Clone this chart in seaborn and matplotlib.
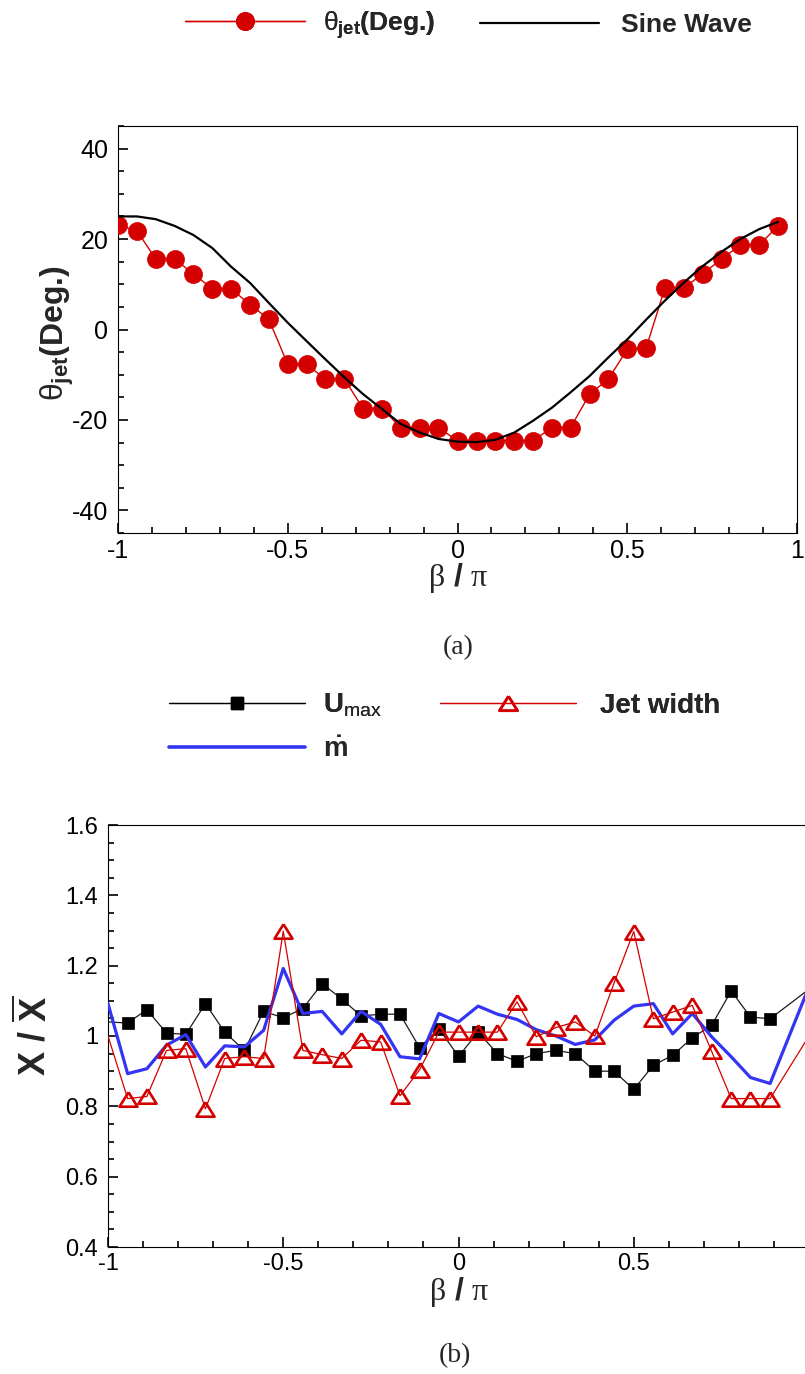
import numpy as np
import pandas as pd
import matplotlib
matplotlib.use("Agg")
import matplotlib.pyplot as plt
import seaborn as sns
from matplotlib.ticker import MultipleLocator, FixedLocator, FixedFormatter
from matplotlib.lines import Line2D

# ---------------- data ----------------
beta_top = [-1.0, -0.944, -0.889, -0.833, -0.778, -0.722, -0.667, -0.611, -0.556,
            -0.5, -0.444, -0.389, -0.333, -0.278, -0.222, -0.167, -0.111, -0.056,
            0.0, 0.056, 0.111, 0.167, 0.222, 0.278, 0.333, 0.389, 0.444,
            0.5, 0.556, 0.611, 0.667, 0.722, 0.778, 0.833, 0.889, 0.944]
theta_jet = [23.1, 21.8, 15.6, 15.6, 12.3, 9.0, 9.0, 5.5, 2.3,
             -7.7, -7.7, -11.0, -11.0, -17.5, -17.5, -21.7, -21.7, -21.7,
             -24.6, -24.6, -24.6, -24.6, -24.6, -21.7, -21.7, -14.3, -11.0,
             -4.4, -4.0, 9.2, 9.2, 12.3, 15.6, 18.7, 18.7, 22.9]
sine_wave = [25.0, 25.0, 24.4, 22.9, 20.9, 18.0, 13.9, 10.3, 5.9,
             1.5, -2.6, -6.6, -10.6, -14.3, -17.6, -20.9, -22.8, -24.2,
             -24.8, -24.9, -24.4, -22.8, -20.2, -17.3, -13.9, -10.3, -6.2,
             -2.2, 2.2, 6.4, 10.4, 14.0, 17.2, 20.0, 22.2, 23.8]

beta_bot = [-1.0, -0.944, -0.889, -0.833, -0.778, -0.722, -0.667, -0.611, -0.556,
            -0.5, -0.444, -0.389, -0.333, -0.278, -0.222, -0.167, -0.111, -0.056,
            0.0, 0.056, 0.111, 0.167, 0.222, 0.278, 0.333, 0.389, 0.444,
            0.5, 0.556, 0.611, 0.667, 0.722, 0.778, 0.833, 0.889, 1.0]
u_max = [1.04, 1.037, 1.075, 1.008, 1.005, 1.092, 1.011, 0.959, 1.070,
         1.052, 1.078, 1.149, 1.105, 1.057, 1.062, 1.062, 0.967, 1.021,
         0.942, 1.011, 0.950, 0.928, 0.950, 0.959, 0.950, 0.900, 0.900,
         0.848, 0.917, 0.945, 0.995, 1.030, 1.128, 1.054, 1.049, 1.133]
jet_width = [1.0, 0.822, 0.828, 0.959, 0.964, 0.793, 0.936, 0.941, 0.936,
             1.298, 0.959, 0.947, 0.936, 0.988, 0.983, 0.830, 0.904, 1.011,
             1.011, 1.011, 1.011, 1.097, 0.998, 1.024, 1.040, 1.000, 1.151,
             1.297, 1.049, 1.068, 1.087, 0.957, 0.822, 0.822, 0.822, 1.0]
m_dot = [1.092, 0.893, 0.907, 0.974, 1.004, 0.912, 0.972, 0.969, 1.016,
         1.192, 1.064, 1.070, 1.006, 1.070, 1.033, 0.941, 0.935, 1.064,
         1.040, 1.085, 1.062, 1.047, 1.018, 1.000, 0.976, 0.989, 1.045,
         1.085, 1.092, 1.006, 1.064, 0.998, 0.941, 0.882, 0.865, 1.14]

x_ticks = [-1, -0.5, 0, 0.5, 1]
x_tick_labels_top = ["-1", "-0.5", "0", "0.5", "1"]
x_tick_labels_bot = ["-1", "-0.5", "0", "0.5", ""]   # "1" lies outside the picture
y_ticks_top = [-40, -20, 0, 20, 40]
y_tick_labels_top = ["-40", "-20", "0", "20", "40"]
y_ticks_bot = [0.4, 0.6, 0.8, 1.0, 1.2, 1.4, 1.6]
y_tick_labels_bot = ["0.4", "0.6", "0.8", "1", "1.2", "1.4", "1.6"]

# ---------------- style ----------------
sns.set_style("white", rc={"axes.edgecolor": "black", "axes.linewidth": 1.5,
                           "xtick.color": "black", "ytick.color": "black"})
plt.rcParams["font.family"] = ["Liberation Sans", "DejaVu Sans"]
plt.rcParams["axes.unicode_minus"] = False
plt.rcParams["mathtext.fontset"] = "custom"
plt.rcParams["mathtext.rm"] = "Liberation Sans"
plt.rcParams["mathtext.it"] = "Liberation Sans"
plt.rcParams["mathtext.bf"] = "Liberation Sans:bold"
plt.rcParams["mathtext.sf"] = "Liberation Serif"

RED = "#d40000"
BLUE = "#3434f4"

W, H = 805, 1374
fig = plt.figure(figsize=(W / 100, H / 100), dpi=100)


def fx(px):
    return px / W


def fy(py):
    return 1 - py / H


THETA_LABEL = r"$\theta_{\mathbf{jet}}$(Deg.)"

# ---------------- top panel ----------------
ax1 = fig.add_axes([fx(118), fy(533), (797 - 118) / W, (533 - 126) / H])
df_top = pd.DataFrame({"beta": beta_top, "theta": theta_jet, "sine": sine_wave})
sns.lineplot(data=df_top, x="beta", y="theta", ax=ax1, color=RED, lw=1.0,
             marker="o", markersize=13, markerfacecolor=RED,
             markeredgecolor=RED, markeredgewidth=0.5, legend=False, zorder=3)
sns.lineplot(data=df_top, x="beta", y="sine", ax=ax1, color="black", lw=1.6,
             legend=False, zorder=4)
ax1.set_xlim(-1, 1)
ax1.set_ylim(-45, 45)
ax1.xaxis.set_major_locator(FixedLocator(x_ticks))
ax1.xaxis.set_major_formatter(FixedFormatter(x_tick_labels_top))
ax1.xaxis.set_minor_locator(MultipleLocator(0.1))
ax1.yaxis.set_major_locator(FixedLocator(y_ticks_top))
ax1.yaxis.set_major_formatter(FixedFormatter(y_tick_labels_top))
ax1.yaxis.set_minor_locator(MultipleLocator(5))
ax1.set_xlabel("")
ax1.set_ylabel("")
ax1.tick_params(which="both", direction="in", top=False, right=False,
                bottom=True, left=True, width=1.2)
ax1.tick_params(which="major", length=7, labelsize=18)
ax1.tick_params(which="minor", length=4)
ax1.tick_params(axis="y", which="major", pad=7)
ax1.tick_params(axis="x", which="major", pad=4)

fig.text(fx(57), fy(333), THETA_LABEL, fontweight="bold",
         rotation=90, ha="center", va="center", fontsize=23)
fig.text(fx(458), fy(578), r"$\mathsf{\beta}\ \mathbf{/}\ \mathsf{\pi}$",
         ha="center", va="center", fontsize=23)
fig.text(fx(458), fy(648), "(a)", family="Liberation Serif",
         ha="center", va="center", fontsize=20)

lines_top = ax1.get_lines()
fs = 19
fs_px = fs * 100 / 72
legprop = {"weight": "bold", "size": fs}
leg1 = fig.legend(handles=[lines_top[0]], labels=[THETA_LABEL],
                  loc="center left", bbox_to_anchor=(fx(185), fy(25)),
                  frameon=False, borderpad=0, borderaxespad=0, numpoints=1,
                  handlelength=120 / fs_px, handletextpad=18 / fs_px, prop=legprop)
leg2 = fig.legend(handles=[lines_top[1]], labels=["Sine Wave"],
                  loc="center left", bbox_to_anchor=(fx(480), fy(25)),
                  frameon=False, borderpad=0, borderaxespad=0,
                  handlelength=119 / fs_px, handletextpad=22 / fs_px, prop=legprop)
fig.add_artist(leg1)

# ---------------- bottom panel ----------------
ax2 = fig.add_axes([fx(108), fy(1247), (809 - 108) / W, (1247 - 825) / H])
df_bot = pd.DataFrame({"beta": beta_bot, "umax": u_max, "width": jet_width, "mdot": m_dot})
inner = list(range(1, len(beta_bot) - 1))
tri = [(0, 0.8), (-1, -0.8), (1, -0.8), (0, 0.8)]
sns.lineplot(data=df_bot, x="beta", y="umax", ax=ax2, color="#1a1a1a", lw=0.9,
             marker="s", markersize=8, markerfacecolor="black", markeredgecolor="black",
             markeredgewidth=0.5, markevery=inner, legend=False, zorder=3)
sns.lineplot(data=df_bot, x="beta", y="mdot", ax=ax2, color=BLUE, lw=2.3,
             legend=False, zorder=4)
sns.lineplot(data=df_bot, x="beta", y="width", ax=ax2, color=RED, lw=0.9,
             marker=tri, markersize=13, markerfacecolor="none", markeredgecolor=RED,
             markeredgewidth=1.9, markevery=inner, legend=False, zorder=5)
ax2.set_xlim(-1, 1)
ax2.set_ylim(0.4, 1.6)
ax2.xaxis.set_major_locator(FixedLocator(x_ticks))
ax2.xaxis.set_major_formatter(FixedFormatter(x_tick_labels_bot))
ax2.xaxis.set_minor_locator(MultipleLocator(0.1))
ax2.yaxis.set_major_locator(FixedLocator(y_ticks_bot))
ax2.yaxis.set_major_formatter(FixedFormatter(y_tick_labels_bot))
ax2.yaxis.set_minor_locator(MultipleLocator(0.05))
ax2.set_xlabel("")
ax2.set_ylabel("")
ax2.tick_params(which="both", direction="in", top=False, right=False,
                bottom=True, left=True, width=1.2)
ax2.tick_params(which="major", length=7, labelsize=17)
ax2.tick_params(which="minor", length=4)
ax2.tick_params(axis="y", which="major", pad=7)
ax2.tick_params(axis="x", which="major", pad=4)

fig.text(fx(34), fy(1036), r"$\mathbf{X\ /\ \overline{X}}$",
         rotation=90, ha="center", va="center", fontsize=26)
fig.text(fx(459), fy(1292), r"$\mathsf{\beta}\ \mathbf{/}\ \mathsf{\pi}$",
         ha="center", va="center", fontsize=23)
fig.text(fx(455), fy(1356), "(b)", family="Liberation Serif",
         ha="center", va="center", fontsize=20)

h_umax = Line2D([], [], color="black", lw=0.9, marker="s", markersize=8,
                markerfacecolor="black", markeredgecolor="black")
h_width = Line2D([], [], color=RED, lw=0.9, marker=tri, markersize=13,
                 markerfacecolor="none", markeredgecolor=RED, markeredgewidth=1.9)
h_mdot = Line2D([], [], color=BLUE, lw=2.6)
legprop_b = {"weight": "bold", "size": 20}
fsb_px = 20 * 100 / 72
leg3 = fig.legend(handles=[h_umax], labels=[r"U$_{\mathrm{max}}$"],
                  loc="center left", bbox_to_anchor=(fx(169), fy(705)),
                  frameon=False, borderpad=0, borderaxespad=0,
                  handlelength=136 / fsb_px, handletextpad=18 / fsb_px, prop=legprop_b)
leg4 = fig.legend(handles=[h_width], labels=["Jet width"],
                  loc="center left", bbox_to_anchor=(fx(440), fy(706)),
                  frameon=False, borderpad=0, borderaxespad=0,
                  handlelength=136 / fsb_px, handletextpad=24 / fsb_px, prop=legprop_b)
leg5 = fig.legend(handles=[h_mdot], labels=[r"$\mathbf{\dot{m}}$"],
                  loc="center left", bbox_to_anchor=(fx(169), fy(750)),
                  frameon=False, borderpad=0, borderaxespad=0,
                  handlelength=136 / fsb_px, handletextpad=18 / fsb_px, prop=legprop_b)
fig.add_artist(leg3)
fig.add_artist(leg4)

fig.savefig("out.png", dpi=100)
